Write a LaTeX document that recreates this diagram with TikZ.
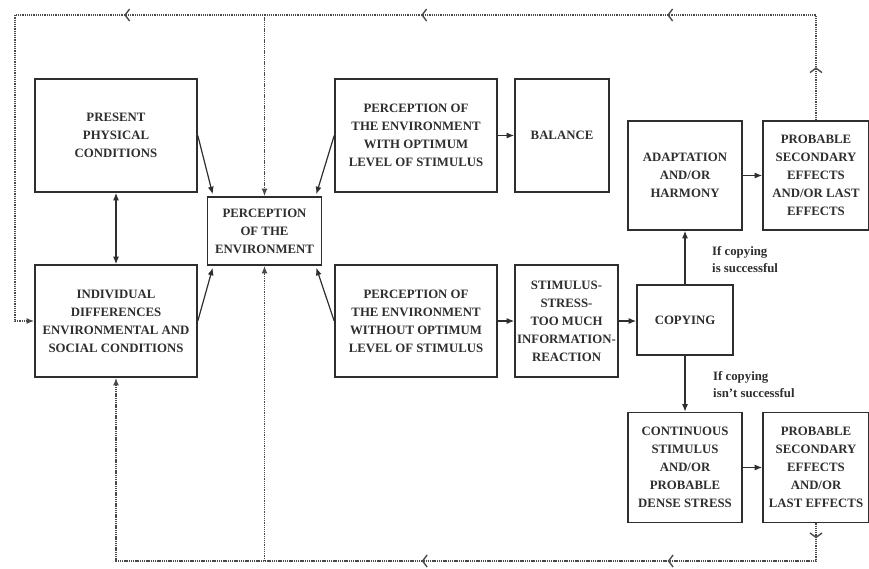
\documentclass[tikz,border=0pt]{standalone}
\usepackage{fontspec}
\setmainfont{Liberation Serif}
\usetikzlibrary{arrows.meta,decorations.markings}
\definecolor{inkgray}{HTML}{2E2E2E}
\definecolor{dotgray}{HTML}{4A4A4A}
\tikzset{
  blk/.style={draw=inkgray,line width=1.6pt,text=inkgray,align=center,inner sep=0pt,
    font=\bfseries\fontsize{12.8}{18}\selectfont},
  arr/.style={draw=inkgray,line width=1.2pt,-{Latex[length=7.5pt,width=6pt]}},
  dotline/.style={draw=dotgray,line width=1.7pt,dash pattern=on 1.3pt off 0.9pt},
  chev/.style={postaction={decorate,decoration={markings,
    mark=at position #1 with {\arrow{Straight Barb[length=4.5pt,width=12pt,line width=1.4pt]}}}}},
  note/.style={text=inkgray,align=left,inner sep=0pt,anchor=north west,
    font=\bfseries\fontsize{12.8}{17}\selectfont},
}

\begin{document}
\begin{tikzpicture}[x=1pt,y=-1pt]
\useasboundingbox (0,0) rectangle (869,568);
% left column
\node[blk,minimum width=162pt,minimum height=113pt] (present) at (116,135.5) {PRESENT\\PHYSICAL\\CONDITIONS};
\node[blk,minimum width=162pt,minimum height=112pt] (indiv) at (116,321) {INDIVIDUAL\\DIFFERENCES\\ENVIRONMENTAL AND\\SOCIAL CONDITIONS};
\node[blk,minimum width=114pt,minimum height=68pt] (percep) at (264.5,231) {PERCEPTION\\OF THE\\ENVIRONMENT};
% middle
\node[blk,minimum width=162pt,minimum height=113pt] (withopt) at (416,135.5) {PERCEPTION OF\\THE ENVIRONMENT\\WITH OPTIMUM\\LEVEL OF STIMULUS};
\node[blk,minimum width=162pt,minimum height=112pt] (withoutopt) at (416,321) {PERCEPTION OF\\THE ENVIRONMENT\\WITHOUT OPTIMUM\\LEVEL OF STIMULUS};
\node[blk,minimum width=94pt,minimum height=113pt] (balance) at (562,135.5) {BALANCE};
\node[blk,minimum width=103pt,minimum height=112pt] (stimulus) at (566.5,321) {STIMULUS-\\STRESS-\\TOO MUCH\\INFORMATION-\\REACTION};
% right
\node[blk,minimum width=96pt,minimum height=70pt] (copying) at (685,320) {COPYING};
\node[blk,minimum width=114pt,minimum height=109pt] (adapt) at (685,175.5) {ADAPTATION\\AND/OR\\HARMONY};
\node[blk,minimum width=106pt,minimum height=109pt] (probtop) at (816,175.5) {PROBABLE\\SECONDARY\\EFFECTS\\AND/OR LAST\\EFFECTS};
\node[blk,minimum width=114pt,minimum height=110pt] (contin) at (685,467.5) {CONTINUOUS\\STIMULUS\\AND/OR\\PROBABLE\\DENSE STRESS};
\node[blk,minimum width=106pt,minimum height=110pt] (probbot) at (816,467.5) {PROBABLE\\SECONDARY\\EFFECTS\\AND/OR\\LAST EFFECTS};
\node[note] (okcase) at (712,246) {If copying\\is successful};
\node[note] (failcase) at (713,371) {If copying\\isn't successful};

% solid arrows
\draw[arr] (present.east) -- ([xshift=6pt,yshift=2pt]percep.north west);
\draw[arr] (indiv.east) -- ([xshift=6pt,yshift=-2pt]percep.south west);
\draw[arr] (withopt.west) -- ([xshift=-6pt,yshift=2pt]percep.north east);
\draw[arr] (withoutopt.west) -- ([xshift=-6pt,yshift=-2pt]percep.south east);
\draw[arr,{Latex[length=7.5pt,width=6pt]}-{Latex[length=7.5pt,width=6pt]}] (present.south) -- (indiv.north);
\draw[arr] (withopt.east) -- (balance.west);
\draw[arr] (withoutopt.east) -- (stimulus.west);
\draw[arr] (stimulus.east) -- (stimulus.east -| copying.west);
\draw[arr] (copying.north) -- (adapt.south);
\draw[arr] (copying.south) -- (contin.north);
\draw[arr] (adapt.east) -- (probtop.west);
\draw[arr] (contin.east) -- (probbot.west);

% feedback loops
\coordinate (tl) at (15,15);
\coordinate (bl) at (116,561);
\draw[dotline,chev=53pt,chev=254pt,chev=500pt,chev=797pt,-{Latex[length=7.5pt,width=6pt]}]
  (probtop.north) |- (tl) |- (indiv.west);
\draw[dotline,-{Latex[length=7.5pt,width=6pt]}] (percep.north |- tl) -- (percep.north);
\draw[dotline,chev=15pt,chev=186pt,chev=432pt,-{Latex[length=7.5pt,width=6pt]}]
  (probbot.south) |- (bl) -- (indiv.south);
\draw[dotline,-{Latex[length=7.5pt,width=6pt]}] (percep.south |- bl) -- (percep.south);
\end{tikzpicture}
\end{document}
